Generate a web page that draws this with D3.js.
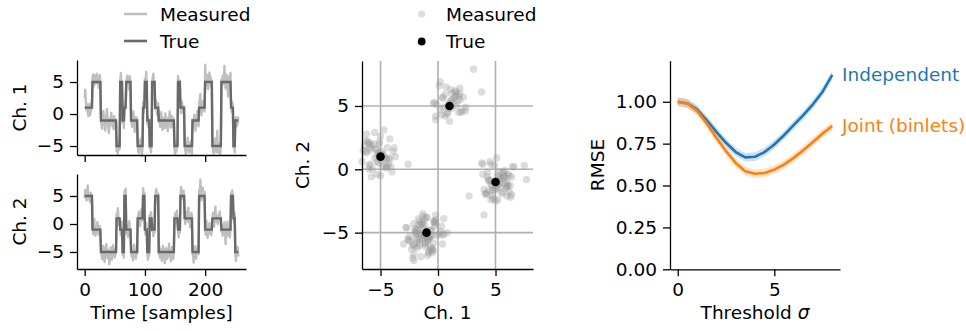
<!DOCTYPE html>
<html><head><meta charset="utf-8">
<script src="https://cdn.jsdelivr.net/npm/d3@7"></script>
<style>
body{margin:0;background:#fff}
svg{display:block}
text{font-family:"DejaVu Sans",sans-serif;font-size:18.5px;fill:#000}
</style>
</head><body>
<svg id="c" width="966" height="331"></svg>
<script>
// ---------------- DATA ----------------
// hidden states: true (Ch.1, Ch.2) levels
const trueCh1 = [1, 5, -1, -5];
const trueCh2 = [5, -1, -5, 1];
// run-length encoded state sequence (256 samples)
const runState  = [0,1,2,3,1,2,0,1,2,3,0,1,2,3,1,0,2,3,1,0,3,2,0,1,3,1,0,3,2];
const runLength = [13,14,26,6,4,3,3,8,11,9,3,4,4,4,5,6,26,6,4,7,13,11,10,12,15,16,4,3,6];

// measured channel 1
const measCh1 = [
 2.4,3.8,1.9,0.6,1.5,0.2,-0.3,0.8,1.6,-0.2,0.4,1.2,0.9,
 5.6,6.2,4.3,5.1,6.0,4.7,5.4,6.3,4.9,5.8,4.1,5.2,6.1,5.0,
 -0.4,-1.8,-2.3,-0.6,0.5,-1.2,-0.9,-2.6,-1.5,-0.2,0.8,-1.1,-1.7,-3.0,-2.1,-0.7,-1.4,0.2,-0.5,-1.9,-1.0,-2.4,-0.3,-1.6,-0.8,-1.3,
 -5.8,-4.3,-6.2,-5.1,-4.0,-5.5,
 5.2,6.4,4.6,3.9,
 -1.4,-0.3,-2.2,
 0.6,1.8,1.1,
 4.4,5.7,6.0,4.8,5.3,3.8,5.9,4.6,
 -0.2,-1.6,-2.0,-0.8,0.4,-1.3,-2.8,-1.1,-0.5,-1.9,-0.7,
 -4.6,-5.9,-6.1,-4.2,-5.3,-3.9,-5.0,-6.6,-4.8,
 1.9,0.2,1.4,
 5.5,4.2,6.6,5.0,
 -1.6,-0.4,-2.1,-0.9,
 -5.4,-4.1,-6.0,-4.9,
 4.7,5.8,6.3,4.4,5.1,
 0.8,2.2,1.5,-0.1,1.0,1.7,
 -1.2,-0.2,-2.0,-1.5,0.3,-0.8,-2.5,-1.7,-0.6,-1.1,-2.2,0.1,-1.4,-0.9,-1.8,-2.7,-0.5,-1.3,0.4,-1.0,-2.1,-1.6,-0.3,-1.9,-0.7,-1.2,
 -5.3,-6.4,-4.5,-5.9,-4.2,-5.0,
 5.9,4.6,5.3,4.0,
 1.3,0.1,2.0,1.6,0.5,1.2,-0.4,
 -4.8,-5.7,-6.3,-4.4,-5.2,-3.7,-5.5,-6.0,-4.9,-5.8,-4.3,-5.1,-6.5,
 -0.9,-2.1,-1.5,-0.1,-1.2,-2.6,-0.6,-1.7,0.5,-1.0,-1.9,
 1.5,2.4,3.1,1.1,-0.2,1.8,0.7,2.1,1.0,0.4,
 7.7,5.6,4.5,6.1,5.0,3.9,5.4,6.5,4.7,5.8,4.2,5.3,
 -4.5,-5.6,-6.2,-5.0,-3.8,-4.7,-5.9,-5.3,-2.6,-6.0,-5.4,-4.6,-5.1,-6.3,-4.8,
 5.4,4.3,6.0,5.7,4.8,7.5,5.1,4.0,6.2,5.5,4.6,2.7,5.9,4.4,5.2,6.4,
 1.2,0.3,1.9,0.9,
 -5.2,-4.4,-6.0,
 -1.3,-0.5,-2.0,-0.8,-1.6,-0.4
];
// measured channel 2
const measCh2 = [
 4.6,6.1,5.5,4.2,5.8,6.9,5.3,4.4,5.0,3.9,5.6,4.8,5.2,
 -0.2,-1.8,-0.6,0.9,-1.4,-2.1,-0.8,-1.3,0.3,-0.5,-1.9,-1.1,-0.4,-1.6,
 -4.1,-5.6,-6.3,-4.8,-3.9,-5.2,-6.8,-5.5,-4.4,-3.6,-5.0,-6.1,-4.7,-5.9,-7.2,-5.3,-4.2,-4.9,-6.4,-5.1,-3.8,-5.7,-4.5,-6.0,-5.4,-4.6,
 1.9,0.4,2.8,1.3,-0.2,0.9,
 -0.5,-2.0,-1.2,0.4,
 -5.5,-4.2,-6.0,
 5.9,4.5,6.3,
 -1.7,-0.3,-1.0,-2.3,-0.6,0.5,-1.5,-0.9,
 -4.3,-5.8,-4.9,-6.5,-5.2,-3.7,-4.6,-5.9,-6.2,-4.8,-5.3,
 0.3,1.7,2.2,0.8,-0.4,1.4,2.6,0.6,1.1,
 6.4,4.7,5.6,
 -0.7,-1.9,0.2,-1.2,
 -5.1,-6.4,-4.3,-5.7,
 1.6,0.2,2.1,0.7,
 -1.3,-0.1,-2.2,-0.8,-1.5,
 4.4,5.7,6.2,5.1,3.8,5.4,
 -5.4,-4.0,-6.1,-5.0,-4.5,-6.6,-5.3,-3.9,-4.8,-5.8,-7.0,-5.1,-4.3,-5.6,-6.2,-4.6,-5.2,-3.5,-5.9,-4.9,-6.7,-5.5,-4.1,-5.0,-6.3,-4.4,
 0.6,1.9,0.1,1.5,2.4,0.8,
 -1.1,-2.4,-0.2,-1.6,
 5.3,6.6,4.5,5.9,4.9,6.0,5.2,
 1.2,0.0,2.3,1.7,0.5,1.0,2.9,0.3,1.4,-0.6,0.9,2.0,1.5,
 -4.8,-5.9,-6.9,-5.2,-4.0,-5.6,-6.2,-4.4,-5.1,-3.8,-5.4,
 6.1,4.9,7.9,5.4,4.2,5.8,6.5,4.6,5.0,5.7,
 -0.8,-1.9,0.6,-1.3,-2.5,-0.4,-1.0,0.2,-1.7,-0.6,-2.0,-1.2,
 0.8,2.0,1.3,-0.5,1.7,3.1,0.4,1.1,0.4,0.0,1.6,0.9,2.2,1.4,0.2,
 -1.4,-0.2,-2.1,-0.7,-1.6,0.3,-1.1,-3.6,-0.5,-1.8,0.4,-2.1,-1.3,-0.9,-2.4,-0.6,
 5.5,4.3,6.0,4.8,
 1.3,0.2,2.0,
 -5.2,-6.6,-4.7,-5.5,-4.1,-5.8
];

// RMSE vs threshold
const thresholds = [0,0.5,1,1.5,2,2.5,3,3.5,4,4.5,5,5.5,6,6.5,7,7.5,8];
const rmseIndependent = [1.00,0.99,0.955,0.89,0.82,0.755,0.70,0.668,0.672,0.70,0.745,0.80,0.86,0.92,0.985,1.06,1.16];
const rmseJoint       = [1.00,0.99,0.945,0.87,0.785,0.705,0.635,0.585,0.57,0.575,0.595,0.625,0.665,0.71,0.76,0.81,0.855];
const rmseBand = 0.026;

const tsTicksX = [0,100,200];
const tsTicksY = [-5,0,5];
const scTicks = [-5,0,5];
const rmTicksX = [0,5];
const rmTicksY = [0,0.25,0.5,0.75,1.0];

// ---------------- BUILD ----------------
const trueSeq = [];
runState.forEach((s,i)=>{ for(let k=0;k<runLength[i];k++) trueSeq.push(s); });
const n = trueSeq.length;
const tIdx = d3.range(n);

const svg = d3.select("#c");
const FS = "18.5px";
const C_MEAS = "#bfbfbf", C_TRUE = "#696969";
const BLUE = "#1f77b4", ORANGE = "#ff7f0e";

function styleAxis(g){
  g.selectAll(".domain").attr("stroke","#000").attr("stroke-width",1.3);
  g.selectAll(".tick line").attr("stroke","#000").attr("stroke-width",1.3);
  g.selectAll(".tick text").attr("font-size",FS).attr("fill","#000").attr("font-family","DejaVu Sans");
}

// ---- Time series ----
const tsX = d3.scaleLinear().domain([-12.75, 267.75]).range([77, 246]);
const ch1Y = d3.scaleLinear().domain([-6.4, 8.44]).range([155, 60]);
const ch2Y = d3.scaleLinear().domain([-8.04, 8.93]).range([269, 174]);

function drawTS(yS, meas, levels, bottomY, showLabels, label){
  const g = svg.append("g");
  const lineM = d3.line().x(i=>tsX(i)).y(i=>yS(meas[i]));
  const lineT = d3.line().x(i=>tsX(i)).y(i=>yS(levels[trueSeq[i]]));
  g.append("path").attr("d",lineM(tIdx)).attr("fill","none").attr("stroke",C_MEAS).attr("stroke-width",2.4).attr("stroke-linejoin","round");
  g.append("path").attr("d",lineT(tIdx)).attr("fill","none").attr("stroke",C_TRUE).attr("stroke-width",2.4).attr("stroke-linejoin","miter");
  const ax = g.append("g").attr("transform",`translate(77,0)`)
    .call(d3.axisLeft(yS).tickValues(tsTicksY).tickSize(7).tickPadding(6).tickSizeOuter(0).tickFormat(d3.format("d")));
  styleAxis(ax);
  const bx = g.append("g").attr("transform",`translate(0,${bottomY})`)
    .call(d3.axisBottom(tsX).tickValues(tsTicksX).tickSize(7).tickPadding(7).tickSizeOuter(0)
      .tickFormat(showLabels ? d3.format("d") : ()=>""));
  styleAxis(bx);
  const r = yS.range();
  g.append("text").attr("transform",`translate(25.5,${(r[0]+r[1])/2}) rotate(-90)`)
    .attr("text-anchor","middle").text(label);
}
drawTS(ch1Y, measCh1, trueCh1, 155, false, "Ch. 1");
drawTS(ch2Y, measCh2, trueCh2, 269, true, "Ch. 2");
svg.append("text").attr("x",161.5).attr("y",319).attr("text-anchor","middle").text("Time [samples]");

// legend
const lg = svg.append("g");
lg.append("line").attr("x1",124).attr("x2",147).attr("y1",14).attr("y2",14).attr("stroke",C_MEAS).attr("stroke-width",2.6);
lg.append("line").attr("x1",124).attr("x2",147).attr("y1",41).attr("y2",41).attr("stroke",C_TRUE).attr("stroke-width",2.6);
lg.append("text").attr("x",160).attr("y",20.7).text("Measured");
lg.append("text").attr("x",160).attr("y",47.7).text("True");

// ---- Scatter ----
const scX = d3.scaleLinear().domain([-6.61, 8.26]).range([362, 533]);
const scY = d3.scaleLinear().domain([-7.87, 8.55]).range([269, 61]);
const sg = svg.append("g");
scTicks.forEach(v=>{
  sg.append("line").attr("x1",scX(v)).attr("x2",scX(v)).attr("y1",61).attr("y2",269).attr("stroke","#b0b0b0").attr("stroke-width",1.6);
  sg.append("line").attr("y1",scY(v)).attr("y2",scY(v)).attr("x1",362).attr("x2",533).attr("stroke","#b0b0b0").attr("stroke-width",1.6);
});
sg.append("g").selectAll("circle").data(tIdx).join("circle")
  .attr("cx",i=>scX(measCh1[i])).attr("cy",i=>scY(measCh2[i])).attr("r",3.7)
  .attr("fill","#999").attr("fill-opacity",0.33);
sg.append("g").selectAll("circle").data(d3.range(trueCh1.length)).join("circle")
  .attr("cx",k=>scX(trueCh1[k])).attr("cy",k=>scY(trueCh2[k])).attr("r",4.3).attr("fill","#000");
const sax = sg.append("g").attr("transform","translate(362,0)")
  .call(d3.axisLeft(scY).tickValues(scTicks).tickSize(7).tickPadding(6).tickSizeOuter(0).tickFormat(d3.format("d")));
styleAxis(sax);
const sbx = sg.append("g").attr("transform","translate(0,269)")
  .call(d3.axisBottom(scX).tickValues(scTicks).tickSize(7).tickPadding(7).tickSizeOuter(0).tickFormat(d3.format("d")));
styleAxis(sbx);
svg.append("text").attr("x",447.5).attr("y",319).attr("text-anchor","middle").text("Ch. 1");
svg.append("text").attr("transform",`translate(309,165) rotate(-90)`).attr("text-anchor","middle").text("Ch. 2");
// scatter legend
svg.append("circle").attr("cx",421.7).attr("cy",14).attr("r",3.5).attr("fill","#999").attr("fill-opacity",0.33);
svg.append("circle").attr("cx",421.7).attr("cy",41.5).attr("r",3.9).attr("fill","#000");
svg.append("text").attr("x",446).attr("y",20.7).text("Measured");
svg.append("text").attr("x",446).attr("y",47.7).text("True");

// ---- RMSE ----
const rmX = d3.scaleLinear().domain([-0.4, 8.4]).range([670, 840]);
const rmY = d3.scaleLinear().domain([0, 1.245]).range([269.3, 60.7]);
const rg = svg.append("g");
function curve(vals, col){
  const area = d3.area().x((d,i)=>rmX(thresholds[i])).y0(d=>rmY(d-rmseBand)).y1(d=>rmY(d+rmseBand));
  rg.append("path").attr("d",area(vals)).attr("fill",col).attr("fill-opacity",0.22);
  const ln = d3.line().x((d,i)=>rmX(thresholds[i])).y(d=>rmY(d));
  rg.append("path").attr("d",ln(vals)).attr("fill","none").attr("stroke",col).attr("stroke-width",2.6).attr("stroke-linejoin","round");
}
curve(rmseIndependent, BLUE);
curve(rmseJoint, ORANGE);
const rax = rg.append("g").attr("transform","translate(670,0)")
  .call(d3.axisLeft(rmY).tickValues(rmTicksY).tickSize(7).tickPadding(6).tickSizeOuter(0).tickFormat(d3.format(".2f")));
styleAxis(rax);
const rbx = rg.append("g").attr("transform","translate(0,269.3)")
  .call(d3.axisBottom(rmX).tickValues(rmTicksX).tickSize(7).tickPadding(7).tickSizeOuter(0).tickFormat(d3.format("d")));
styleAxis(rbx);
svg.append("text").attr("transform",`translate(603.5,165) rotate(-90)`).attr("text-anchor","middle").text("RMSE");
const th = svg.append("text").attr("x",755).attr("y",319).attr("text-anchor","middle");
th.append("tspan").text("Threshold ");
th.append("tspan").attr("font-style","italic").text("σ");
svg.append("text").attr("x",842).attr("y",80.5).attr("fill",BLUE).style("fill",BLUE).text("Independent");
svg.append("text").attr("x",842).attr("y",131.5).attr("fill",ORANGE).style("fill",ORANGE).text("Joint (binlets)");
</script>
</body></html>
